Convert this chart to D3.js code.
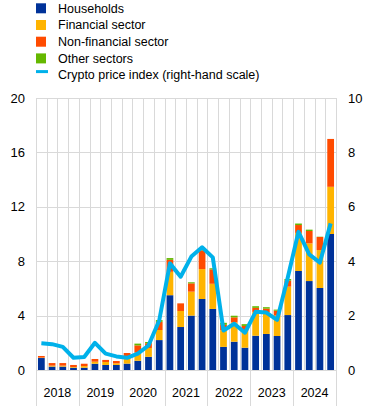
<!DOCTYPE html>
<html>
<head>
<meta charset="utf-8">
<script src="https://cdn.jsdelivr.net/npm/d3@7"></script>
<style>
  body { margin: 0; background: #fff; }
  text { font-family: Arial, "Liberation Sans", sans-serif; fill: #000; }
</style>
</head>
<body>
<div id="chart"></div>
<script>
const years = ["2018", "2019", "2020", "2021", "2022", "2023", "2024"];
const quarters = years.flatMap(y => ["Q1", "Q2", "Q3", "Q4"].map(q => y + q));

const households = [0.88, 0.25, 0.25, 0.17, 0.17, 0.46, 0.37, 0.37, 0.47, 0.68, 0.97, 2.2,
  5.5, 3.16, 4.0, 5.22, 4.49, 1.7, 2.08, 1.64, 2.52, 2.65, 2.5, 4.04, 7.28, 6.54, 6.03, 10.0];
const financial = [0.03, 0.07, 0.07, 0.05, 0.12, 0.15, 0.22, 0.12, 0.35, 0.6, 0.65, 0.74,
  1.72, 1.18, 1.76, 2.2, 1.85, 1.22, 1.42, 1.25, 1.75, 1.6, 1.5, 2.09, 2.8, 2.77, 2.79, 3.47];
const nonFinancial = [0.12, 0.19, 0.19, 0.15, 0.17, 0.2, 0.15, 0.17, 0.43, 0.53, 0.35, 0.6,
  0.88, 0.56, 0.61, 1.38, 1.06, 0.4, 0.37, 0.35, 0.3, 0.26, 0.36, 0.44, 0.58, 0.91, 0.96, 3.52];
const otherSectors = [0, 0, 0, 0, 0, 0, 0, 0, 0, 0.13, 0.09, 0.13,
  0.13, 0, 0.08, 0.03, 0.08, 0.15, 0.12, 0.13, 0.12, 0.11, 0.08, 0.12, 0.11, 0.1, 0.02, 0];
const cryptoIndex = [0.98, 0.95, 0.85, 0.45, 0.48, 1.0, 0.6, 0.5, 0.45, 0.6, 0.9, 1.82,
  3.92, 3.43, 4.17, 4.51, 4.14, 1.45, 1.7, 1.37, 2.14, 2.11, 1.84, 3.4, 5.08, 4.25, 3.95, 5.39];

const leftTicks = [0, 4, 8, 12, 16, 20];
const rightTicks = [0, 2, 4, 6, 8, 10];

const series = [
  { key: "hh", name: "Households", color: "#003299", values: households },
  { key: "fin", name: "Financial sector", color: "#ffb400", values: financial },
  { key: "nfc", name: "Non-financial sector", color: "#ff4b00", values: nonFinancial },
  { key: "oth", name: "Other sectors", color: "#65b800", values: otherSectors },
];
const lineColor = "#00b1ea";

const width = 370, height = 406;
const plot = { left: 36, right: 336, top: 98, bottom: 370 };

const svg = d3.select("#chart").append("svg")
  .attr("width", width)
  .attr("height", height);

const x = d3.scaleBand()
  .domain(quarters)
  .range([plot.left, plot.right])
  .paddingInner(0.37)
  .paddingOuter(0.185);

const y = d3.scaleLinear().domain([0, 20]).range([plot.bottom, plot.top]);
const yR = d3.scaleLinear().domain([0, 10]).range([plot.bottom, plot.top]);

const step = x.step();
const bandStart = q => x(q) - step * 0.185;

// grid
const grid = svg.append("g").attr("class", "grid")
  .attr("stroke", "#d9d9d9").attr("stroke-width", 1);

grid.selectAll(".hgrid")
  .data(leftTicks)
  .enter().append("line")
  .attr("x1", plot.left).attr("x2", plot.right)
  .attr("y1", d => Math.round(y(d)) + 0.5)
  .attr("y2", d => Math.round(y(d)) + 0.5);

const boundaries = quarters.map(bandStart).concat([plot.right]);
grid.selectAll(".vgrid")
  .data(boundaries)
  .enter().append("line")
  .attr("x1", d => Math.round(d) + 0.5).attr("x2", d => Math.round(d) + 0.5)
  .attr("y1", plot.top)
  .attr("y2", (d, i) => (i % 4 === 0 ? height : plot.bottom));

// bars
const rows = quarters.map((q, i) => {
  const r = { q: q };
  series.forEach(s => { r[s.key] = s.values[i]; });
  return r;
});
const stacked = d3.stack().keys(series.map(s => s.key))(rows);

svg.append("g").attr("class", "bars")
  .selectAll("g")
  .data(stacked)
  .enter().append("g")
  .attr("fill", (d, i) => series[i].color)
  .selectAll("rect")
  .data(d => d)
  .enter().append("rect")
  .attr("x", d => x(d.data.q))
  .attr("width", x.bandwidth())
  .attr("y", d => y(d[1]))
  .attr("height", d => Math.max(0, y(d[0]) - y(d[1])));

// crypto line
const line = d3.line()
  .x((d, i) => x(quarters[i]) + x.bandwidth() / 2)
  .y(d => yR(d));

svg.append("path")
  .datum(cryptoIndex)
  .attr("fill", "none")
  .attr("stroke", lineColor)
  .attr("stroke-width", 4)
  .attr("stroke-linejoin", "round")
  .attr("d", line);

// axes labels
svg.append("g").selectAll("text")
  .data(leftTicks)
  .enter().append("text")
  .attr("x", 25)
  .attr("y", d => y(d))
  .attr("dy", "0.35em")
  .attr("text-anchor", "end")
  .style("font-size", "13px")
  .text(d => d);

svg.append("g").selectAll("text")
  .data(rightTicks)
  .enter().append("text")
  .attr("x", 348)
  .attr("y", d => yR(d))
  .attr("dy", "0.35em")
  .attr("text-anchor", "start")
  .style("font-size", "13px")
  .text(d => d);

svg.append("g").selectAll("text")
  .data(years)
  .enter().append("text")
  .attr("x", (d, i) => bandStart(quarters[i * 4]) + step * 2)
  .attr("y", 397)
  .attr("text-anchor", "middle")
  .style("font-size", "12.5px")
  .text(d => d);

// legend
const legend = svg.append("g").attr("class", "legend");
const legendItems = series.map(s => ({ name: s.name, color: s.color, type: "box" }))
  .concat([{ name: "Crypto price index (right-hand scale)", color: lineColor, type: "line" }]);

const li = legend.selectAll("g")
  .data(legendItems)
  .enter().append("g")
  .attr("transform", (d, i) => "translate(36," + (8.3 + i * 16.7) + ")");

li.filter(d => d.type === "box").append("rect")
  .attr("x", 0).attr("y", -5)
  .attr("width", 10).attr("height", 10)
  .attr("fill", d => d.color);

li.filter(d => d.type === "line").append("rect")
  .attr("x", 0).attr("y", -5)
  .attr("width", 12).attr("height", 3)
  .attr("fill", d => d.color);

li.append("text")
  .attr("x", 22)
  .attr("dy", "0.35em")
  .style("font-size", "12.5px")
  .text(d => d.name);
</script>
</body>
</html>
